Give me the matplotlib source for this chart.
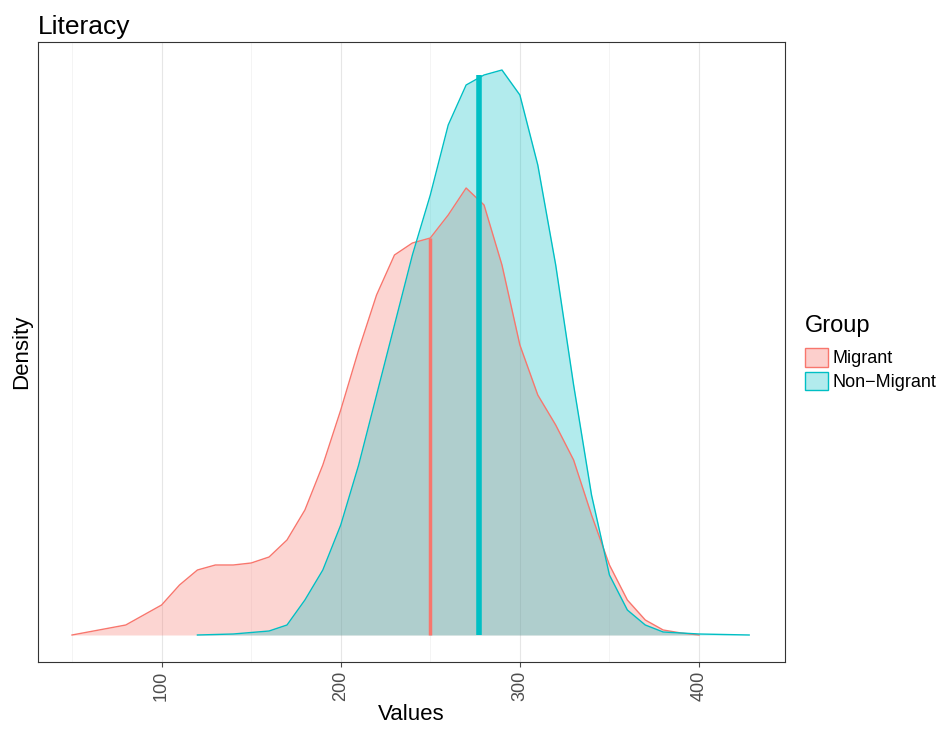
import matplotlib
matplotlib.use("Agg")
import matplotlib.pyplot as plt
from matplotlib.patches import Patch

plt.rcParams['font.family'] = ['Liberation Sans', 'DejaVu Sans']

mig_x = [50,80,100,110,120,130,140,150,160,170,180,190,200,210,220,230,240,250,260,270,280,290,300,310,320,330,340,350,360,370,380,390,400]
mig_y = [0,10,30,50,65,70,70,72,78,95,125,170,225,285,340,380,392,397,420,447,430,370,290,240,210,175,120,70,35,15,5,2,0]
non_x = [120,140,160,170,180,190,200,210,220,230,240,250,260,270,280,290,300,310,320,330,340,350,360,370,380,400,428]
non_y = [0,1,4,10,35,65,110,170,240,310,380,440,510,550,560,565,540,470,370,250,140,60,25,10,3,1,0]
mig_mean, mig_h = 250, 397
non_mean, non_h = 277, 560
red, cyan = "#F8766D", "#00BFC4"

fig = plt.figure(figsize=(9.4, 7.29), dpi=100)
ax = fig.add_axes([38/940, 1-662/729, (785-38)/940, (662-42)/729])
ax.fill_between(mig_x, mig_y, color=red, alpha=0.3, lw=0)
ax.plot(mig_x, mig_y, color=red, lw=1)
ax.fill_between(non_x, non_y, color=cyan, alpha=0.3, lw=0)
ax.plot(non_x, non_y, color=cyan, lw=1)
ax.vlines(mig_mean, 0, mig_h, color=red, lw=2.5)
ax.vlines(non_mean, 0, non_h, color=cyan, lw=4)
ax.set_xlim(31, 448)
ax.set_ylim(-27, 593)
ax.set_yticks([])
ax.set_xticks([100,200,300,400])
ax.set_xticks([50,150,250,350], minor=True)
ax.grid(True, axis='x', which='major', color='#e6e6e6', lw=0.8)
ax.grid(True, axis='x', which='minor', color='#f0f0f0', lw=0.5)
ax.set_axisbelow(True)
ax.tick_params(axis='x', labelrotation=90, labelsize=13, colors='#4d4d4d', pad=3)
ax.tick_params(axis='x', which='minor', length=0)
for s in ax.spines.values():
    s.set_color('#333333')
ax.set_xlabel("Values", fontsize=16, labelpad=2)
ax.set_ylabel("Density", fontsize=16)
ax.set_title("Literacy", loc='left', fontsize=19, pad=6)
handles = [Patch(facecolor=(0.973,0.463,0.427,0.35), edgecolor=red), Patch(facecolor=(0,0.749,0.769,0.3), edgecolor=cyan)]
leg = fig.legend(handles, ["Migrant", "Non\u2212Migrant"], title="Group", loc='upper left',
                 bbox_to_anchor=(805/940, 1-315/729), frameon=False, fontsize=13,
                 title_fontsize=17, handlelength=1.3, handleheight=1.2, handletextpad=0.2,
                 labelspacing=0.25, borderaxespad=0, borderpad=0)
leg._legend_box.align = "left"
leg._legend_box.sep = 8
fig.savefig("out.png", dpi=100)
